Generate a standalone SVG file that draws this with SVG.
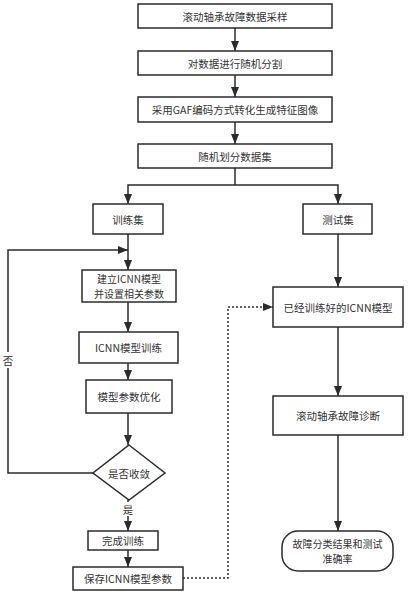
<svg xmlns="http://www.w3.org/2000/svg" width="410" height="594" viewBox="0 0 410 594">
<style>
.box{fill:#fff;stroke:#2b2b2b;stroke-width:1.5}
.t{font-family:"Noto Sans CJK SC","Liberation Sans",sans-serif;font-size:10.5px;fill:#333;text-anchor:middle;dominant-baseline:central}
.s{font-size:10px}
.c{fill:none;stroke:#2b2b2b;stroke-width:1.5}
.d{fill:none;stroke:#2b2b2b;stroke-width:1.5;stroke-dasharray:2 2}
</style>
<defs>
<marker id="ah" markerUnits="userSpaceOnUse" markerWidth="10" markerHeight="10" viewBox="0 0 10 10" refX="10" refY="5" orient="auto">
<path d="M0,1 L10,5 L0,9 Z" fill="#2b2b2b"/>
</marker>
</defs>
<rect width="410" height="594" fill="#fff"/>
<g id="connectors">
<path class="c" d="M235,28 V51" marker-end="url(#ah)"/>
<path class="c" d="M235,75 V97" marker-end="url(#ah)"/>
<path class="c" d="M235,122 V144" marker-end="url(#ah)"/>
<path class="c" d="M235,168 V185"/>
<path class="c" d="M235,185 H128 V204" marker-end="url(#ah)"/>
<path class="c" d="M235,185 H338 V204" marker-end="url(#ah)"/>
<path class="c" d="M128,234 V270" marker-end="url(#ah)"/>
<path class="c" d="M93,473 H8 V250 H128" marker-end="url(#ah)"/>
<path class="c" d="M128,302 V332" marker-end="url(#ah)"/>
<path class="c" d="M128,363 V380" marker-end="url(#ah)"/>
<path class="c" d="M128,413 V445" marker-end="url(#ah)"/>
<path class="c" d="M128,500 V531" marker-end="url(#ah)"/>
<path class="c" d="M128,550 V567" marker-end="url(#ah)"/>
<path class="d" d="M183,578 H228 V307 H273" marker-end="url(#ah)"/>
<path class="c" d="M338,234 V287" marker-end="url(#ah)"/>
<path class="c" d="M338,327 V396" marker-end="url(#ah)"/>
<path class="c" d="M338,435 V531" marker-end="url(#ah)"/>
<rect x="1" y="352" width="14" height="16" fill="#fff"/>
<text class="t" x="8" y="360">否</text>
<rect x="121" y="502" width="14" height="14" fill="#fff"/>
<text class="t" x="128" y="509">是</text>
</g>
<g id="n1"><rect class="box" x="138" y="4" width="194" height="24"/><text class="t" x="235" y="16">滚动轴承故障数据采样</text></g>
<g id="n2"><rect class="box" x="138" y="51" width="194" height="24"/><text class="t" x="235" y="63">对数据进行随机分割</text></g>
<g id="n3"><rect class="box" x="138" y="97" width="194" height="25"/><text class="t" x="235" y="109.5">采用GAF编码方式转化生成特征图像</text></g>
<g id="n4"><rect class="box" x="138" y="144" width="194" height="24"/><text class="t" x="235" y="156">随机划分数据集</text></g>
<g id="n5"><rect class="box" x="93" y="204" width="70" height="30"/><text class="t" x="128" y="219">训练集</text></g>
<g id="n6"><rect class="box" x="303" y="204" width="69" height="30"/><text class="t" x="338" y="219">测试集</text></g>
<g id="n7"><rect class="box" x="82" y="270" width="94" height="32"/><text class="t s" x="129" y="278.5">建立ICNN模型</text><text class="t s" x="129" y="293.5">并设置相关参数</text></g>
<g id="n8"><rect class="box" x="79" y="332" width="99" height="31"/><text class="t" x="128.5" y="347.5">ICNN模型训练</text></g>
<g id="n9"><rect class="box" x="86" y="380" width="86" height="33"/><text class="t" x="129" y="396.5">模型参数优化</text></g>
<g id="n10"><path class="box" d="M129,445 L165,473 L129,500 L93,473 Z"/><text class="t" x="129" y="473">是否收敛</text></g>
<g id="n11"><rect class="box" x="88" y="531" width="70" height="19"/><text class="t" x="123" y="540.5">完成训练</text></g>
<g id="n12"><rect class="box" x="73" y="567" width="110" height="23"/><text class="t" x="128" y="578.5">保存ICNN模型参数</text></g>
<g id="n13"><rect class="box" x="273" y="287" width="130" height="40"/><text class="t" x="338" y="307">已经训练好的ICNN模型</text></g>
<g id="n14"><rect class="box" x="273" y="396" width="130" height="39"/><text class="t" x="338" y="415.5">滚动轴承故障诊断</text></g>
<g id="n15"><rect class="box" x="282" y="531" width="111" height="40" rx="16" ry="16"/><text class="t s" x="337.5" y="543.5">故障分类结果和测试</text><text class="t s" x="337.5" y="558.5">准确率</text></g>
</svg>
